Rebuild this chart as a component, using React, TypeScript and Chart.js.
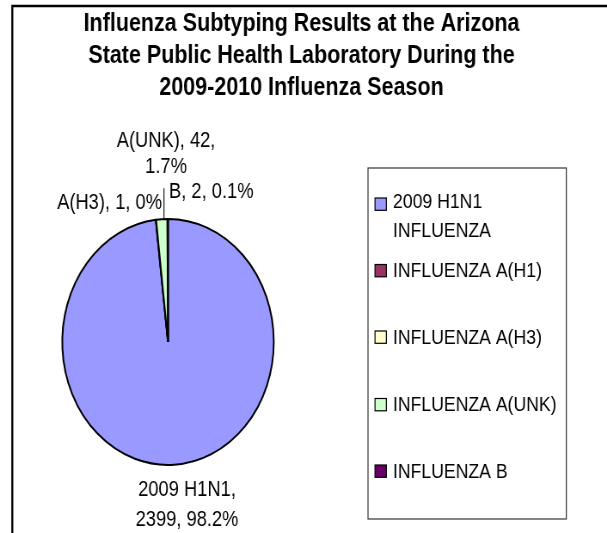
import React, { useEffect, useRef } from 'react';
import { Chart, registerables } from 'chart.js';

Chart.register(...registerables);

// ---------- data ----------
const categories = [
  '2009 H1N1 INFLUENZA',
  'INFLUENZA A(H1)',
  'INFLUENZA A(H3)',
  'INFLUENZA A(UNK)',
  'INFLUENZA B',
];
const shortNames = ['2009 H1N1', 'A(H1)', 'A(H3)', 'A(UNK)', 'B'];
const values = [2399, 0, 1, 42, 2];
const colors = ['#9999FF', '#993366', '#FFFFCC', '#CCFFCC', '#660066'];
const titleLines = [
  'Influenza Subtyping Results at the Arizona',
  'State Public Health Laboratory During the',
  '2009-2010 Influenza Season',
];
const legendLines = [
  ['2009 H1N1', 'INFLUENZA'],
  ['INFLUENZA A(H1)'],
  ['INFLUENZA A(H3)'],
  ['INFLUENZA A(UNK)'],
  ['INFLUENZA B'],
];

// ---------- layout / style (canvas units, later squeezed horizontally) ----------
const VIEW_W = 607;
const VIEW_H = 533;
const SX = 0.8598; // horizontal squeeze of the original picture
const W = Math.round(VIEW_W / SX);
const H = VIEW_H;
const cx = 168 / SX;
const cy = 342;
const half = 124;

const FONT = '"Liberation Sans", Arial, sans-serif';

// split: 'name' -> break after the category name, 'value' -> break after the count
type Placement = {
  dx: number;
  dy: number;
  align: CanvasTextAlign;
  split: 'none' | 'name' | 'value';
  gap?: number;
  leader?: number;
  leaderDx?: number;
} | null;

const placements: Placement[] = [
  { dx: 15, dy: 24.5, align: 'center', split: 'name', gap: 30 },
  null,
  { dx: 7, dy: -17.8, align: 'right', split: 'none' },
  { dx: 5, dy: -79, align: 'center', split: 'value', gap: 26, leader: 31, leaderDx: 2.6 },
  { dx: 1.5, dy: -28, align: 'left', split: 'none' },
];

const legendBox = { x1: 368 / SX, x2: 566.3 / SX, y1: 168, y2: 519 };
const legendMarkerX = 375 / SX;
const legendTextX = 393 / SX;
const legendY = [201.5, 270.5, 337, 404.5, 471];
const legendLineGap = 28.5;

export default function App() {
  const ref = useRef<HTMLCanvasElement>(null);

  useEffect(() => {
    const canvas = ref.current!;
    const total = values.reduce((a, b) => a + b, 0);
    const pct = (v: number) => Number(((v / total) * 100).toFixed(1)).toString() + '%';

    const decor = {
      id: 'decor',
      afterDraw(chart: any) {
        const ctx = chart.ctx as CanvasRenderingContext2D;
        ctx.save();

        // outer frame (left and top edges visible)
        ctx.strokeStyle = '#000';
        ctx.lineWidth = 2.3;
        ctx.beginPath();
        ctx.moveTo(14.3, H + 5);
        ctx.lineTo(14.3, 6);
        ctx.lineTo(W + 5, 6);
        ctx.stroke();

        // title
        ctx.fillStyle = '#000';
        ctx.textAlign = 'center';
        ctx.textBaseline = 'middle';
        ctx.font = `bold 25px ${FONT}`;
        const tY = [23, 55, 87];
        titleLines.forEach((t, i) => ctx.fillText(t, 301.5 / SX, tY[i] + 1));

        // data labels
        const meta = chart.getDatasetMeta(0);
        ctx.font = `21.3px ${FONT}`;
        meta.data.forEach((arc: any, i: number) => {
          const p = placements[i];
          if (!p || values[i] === 0) return;
          const mid = (arc.startAngle + arc.endAngle) / 2;
          const ax = arc.x + Math.cos(mid) * arc.outerRadius;
          const ay = arc.y + Math.sin(mid) * arc.outerRadius;
          const lx = ax + p.dx;
          const ly = ay + p.dy;
          ctx.textAlign = p.align;
          const name = shortNames[i];
          const v = String(values[i]);
          const pc = pct(values[i]);
          let lines: string[];
          if (p.split === 'name') lines = [`${name},`, `${v}, ${pc}`];
          else if (p.split === 'value') lines = [`${name}, ${v},`, pc];
          else lines = [`${name}, ${v}, ${pc}`];
          lines.forEach((ln, j) => ctx.fillText(ln, lx, ly + j * (p.gap || 26) + 1));
          if (p.leader) {
            ctx.strokeStyle = '#000';
            ctx.lineWidth = 1.1;
            ctx.beginPath();
            ctx.moveTo(ax + (p.leaderDx || 0), ay);
            ctx.lineTo(ax + (p.leaderDx || 0), ay - p.leader);
            ctx.stroke();
          }
        });

        // legend
        ctx.strokeStyle = '#333';
        ctx.lineWidth = 1.2;
        ctx.strokeRect(legendBox.x1, legendBox.y1, legendBox.x2 - legendBox.x1, legendBox.y2 - legendBox.y1);
        ctx.font = `20.5px ${FONT}`;
        ctx.textAlign = 'left';
        categories.forEach((_, i) => {
          const y = legendY[i];
          const my = i === 0 ? y + 2.5 : y;
          ctx.fillStyle = colors[i];
          ctx.fillRect(legendMarkerX, my - 6, 13.2, 12.3);
          ctx.strokeStyle = '#000';
          ctx.lineWidth = 1.2;
          ctx.strokeRect(legendMarkerX, my - 6, 13.2, 12.3);
          ctx.fillStyle = '#000';
          legendLines[i].forEach((ln, j) => ctx.fillText(ln, legendTextX, y + j * legendLineGap + 1));
        });

        ctx.restore();
      },
    };

    const chart = new Chart(canvas, {
      type: 'pie',
      data: {
        labels: categories,
        datasets: [
          {
            data: values,
            backgroundColor: colors,
            borderColor: '#000',
            borderWidth: 2,
          },
        ],
      },
      options: {
        responsive: false,
        animation: false,
        devicePixelRatio: 1,
        layout: {
          padding: {
            left: cx - half,
            right: W - (cx + half),
            top: cy - half,
            bottom: H - (cy + half),
          },
        },
        plugins: {
          legend: { display: false },
          title: { display: false },
          tooltip: { enabled: false },
        },
      },
      plugins: [decor],
    });
    return () => chart.destroy();
  }, []);

  return (
    <div
      style={{
        position: 'fixed',
        left: 0,
        top: 0,
        width: VIEW_W,
        height: VIEW_H,
        overflow: 'hidden',
        background: '#fff',
      }}
    >
      <div style={{ width: W, height: H, transform: `scaleX(${SX})`, transformOrigin: '0 0' }}>
        <canvas ref={ref} width={W} height={H} style={{ display: 'block' }} />
      </div>
    </div>
  );
}
